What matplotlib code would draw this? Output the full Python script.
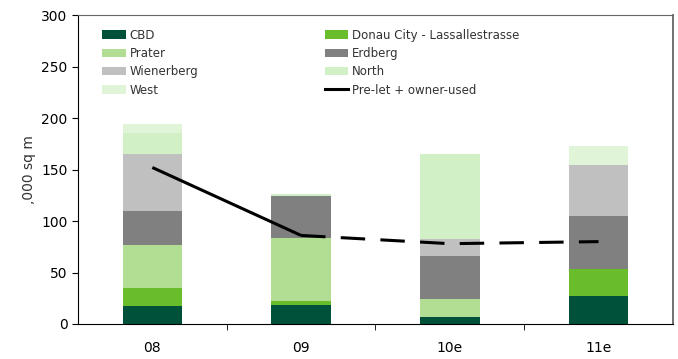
import numpy as np
import matplotlib
matplotlib.use('Agg')
from matplotlib import pyplot as plt
from matplotlib.lines import Line2D

years = ['08', '09', '10e', '11e']
cbd = [17.5, 18.4, 6.8, 27.2]
donau = [17.8, 3.9, 0, 26.2]
prater = [41.4, 61.2, 17.5, 0]
erdberg = [33.3, 40.8, 41.7, 51.5]
wienerberg = [55.3, 0, 16.5, 49.5]
north = [20.4, 2.0, 82.8, 0]
west = [8.3, 0, 0, 18.4]
prelet = [152, 86, 78, 80]

series = [('CBD', cbd, '#00513a'),
          ('Donau City - Lassallestrasse', donau, '#6abd2a'),
          ('Prater', prater, '#b2de94'),
          ('Erdberg', erdberg, '#808080'),
          ('Wienerberg', wienerberg, '#c0c0c0'),
          ('North', north, '#d2f0c6'),
          ('West', west, '#e0f5d8')]

plt.rcParams['font.family'] = 'DejaVu Sans'
fig = plt.figure(figsize=(6.78, 3.59), dpi=100)
ax = fig.add_axes([0.115, 0.0975, 0.8775, 0.8605])

x = np.arange(len(years))
bottom = np.zeros(len(years))
handles = {}
for name, vals, col in series:
    b = ax.bar(x, vals, 0.4, bottom=bottom, color=col, label=name)
    handles[name] = b
    bottom += np.array(vals)

# pre-let line: solid for actual, dashed for forecast
ax.plot(x[:2], prelet[:2], color='black', lw=2.2, solid_capstyle='butt')
ax.plot(x[1:], prelet[1:], color='black', lw=2.2, dashes=(8, 5))
line_h = Line2D([], [], color='black', lw=2.2)

ax.set_xlim(-0.5, 3.5)
ax.set_ylim(0, 300)
ax.set_yticks(range(0, 301, 50))
ax.set_xticks(x)
ax.set_xticklabels(years, fontsize=10)
ax.tick_params(axis='x', length=0, pad=12)
ax.set_xticks(np.arange(0.5, 3.5, 1), minor=True)
ax.tick_params(axis='x', which='minor', length=4, direction='out')
ax.tick_params(axis='y', labelsize=10, length=4, direction='out')
ax.set_ylabel(',000 sq m', fontsize=10, color='#333333')

for s in ['left', 'bottom']:
    ax.spines[s].set_color('black')
for s in ['top', 'right']:
    ax.spines[s].set_color('#666666')
ax.spines['right'].set_linewidth(1.3)

# row-wise order in 2 columns
order_left = [handles['CBD'], handles['Prater'], handles['Wienerberg'], handles['West']]
order_right = [handles['Donau City - Lassallestrasse'], handles['Erdberg'], handles['North'], line_h]
labels_left = ['CBD', 'Prater', 'Wienerberg', 'West']
labels_right = ['Donau City - Lassallestrasse', 'Erdberg', 'North', 'Pre-let + owner-used']
leg = ax.legend(order_left + order_right, labels_left + labels_right, ncol=2,
                loc='upper left', bbox_to_anchor=(0.027, 0.983), frameon=False,
                fontsize=8.5, handlelength=2.0, handleheight=0.7,
                handletextpad=0.3, columnspacing=10.7, labelspacing=0.45,
                borderpad=0.2)
for t in leg.get_texts():
    t.set_color('#333333')

fig.savefig('out.png', dpi=100)
